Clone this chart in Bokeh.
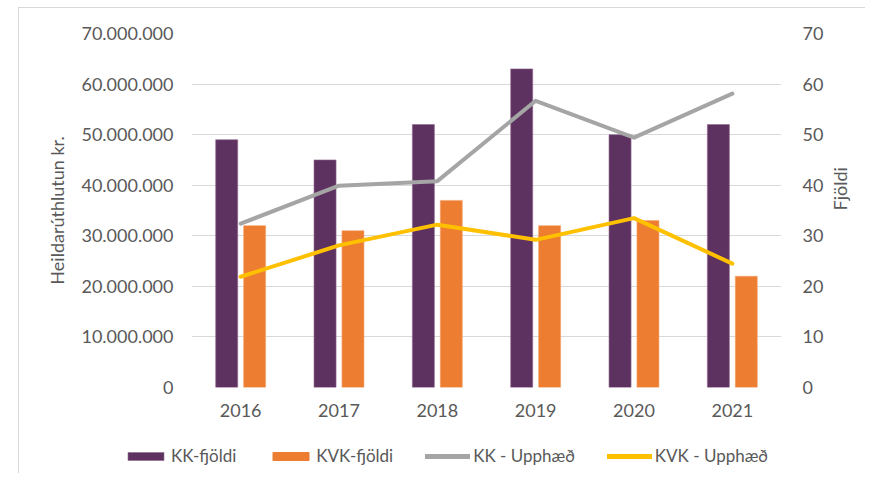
import math
from bokeh.plotting import figure
from bokeh.layouts import column
from bokeh.models import (Range1d, FactorRange, LinearAxis, FixedTicker, CustomJSTickFormatter,
                          Legend, LegendItem, ColumnDataSource)
from bokeh.transform import dodge
from bokeh.embed import file_html
from bokeh.resources import INLINE

years = ["2016", "2017", "2018", "2019", "2020", "2021"]
kk_count = [49, 45, 52, 63, 50, 52]
kvk_count = [32, 31, 37, 32, 33, 22]
kk_amount = [32400000, 39900000, 40800000, 56700000, 49400000, 58100000]
kvk_amount = [21900000, 28100000, 32200000, 29200000, 33500000, 24500000]

amount_ticks = [0, 10000000, 20000000, 30000000, 40000000, 50000000, 60000000, 70000000]
count_ticks = [0, 10, 20, 30, 40, 50, 60, 70]

series_names = ["KK-fjöldi", "KVK-fjöldi", "KK - Upphæð", "KVK - Upphæð"]
COL_KK = "#5E3260"
COL_KVK = "#ED7D31"
COL_KK_L = "#A5A5A5"
COL_KVK_L = "#FFC000"

src = ColumnDataSource(dict(year=years, kk_count=kk_count, kvk_count=kvk_count,
                            kk_amount=kk_amount, kvk_amount=kvk_amount))

FONT = "Lato"
TXT = "#595959"

p = figure(width=865, height=432, output_backend="svg", toolbar_location=None,
           x_range=FactorRange(*years, range_padding=0),
           y_range=Range1d(0, 70000000),
           min_border_left=191, min_border_right=84, min_border_top=33, min_border_bottom=45)
p.extra_y_ranges = {"count": Range1d(0, 70)}
p.outline_line_color = None
p.background_fill_color = "white"
p.border_fill_color = None

# axes
p.yaxis.ticker = FixedTicker(ticks=amount_ticks)
p.yaxis.formatter = CustomJSTickFormatter(code="""
return Math.round(tick).toString().replace(/\\B(?=(\\d{3})+(?!\\d))/g, '.');
""")
p.yaxis.axis_label = "Heildarúthlutun kr."
ax_r = LinearAxis(y_range_name="count", ticker=FixedTicker(ticks=count_ticks), axis_label="Fjöldi")
p.add_layout(ax_r, "right")

for ax in [p.yaxis[0], ax_r, p.xaxis[0]]:
    ax.axis_line_color = None
    ax.major_tick_line_color = None
    ax.minor_tick_line_color = None
    ax.major_tick_out = 0
    ax.major_tick_in = 0
    ax.minor_tick_out = 0
    ax.major_label_text_font = FONT
    ax.major_label_text_font_size = "18px"
    ax.major_label_text_color = TXT
    ax.axis_label_text_font = FONT
    ax.axis_label_text_font_size = "18px"
    ax.axis_label_text_font_style = "normal"
    ax.axis_label_text_color = TXT

p.yaxis[0].major_label_standoff = 18
p.yaxis[0].axis_label_standoff = 10
ax_r.major_label_standoff = 21
ax_r.axis_label_standoff = 14
try:
    ax_r.axis_label_orientation = math.pi / 2
except Exception:
    pass
p.xaxis[0].major_label_standoff = 16

p.xgrid.grid_line_color = None
p.ygrid.grid_line_color = "#D9D9D9"
p.ygrid.grid_line_width = 1

# bars
p.vbar(x=dodge("year", -0.142, range=p.x_range), top="kk_count", width=0.224,
       source=src, y_range_name="count", fill_color=COL_KK, line_color="#8E6A90", line_width=0.6)
p.vbar(x=dodge("year", 0.142, range=p.x_range), top="kvk_count", width=0.224,
       source=src, y_range_name="count", fill_color=COL_KVK, line_color="#F3A470", line_width=0.6)

# lines
p.line(x="year", y="kk_amount", source=src, line_color=COL_KK_L, line_width=4,
       line_cap="round", line_join="round")
p.line(x="year", y="kvk_amount", source=src, line_color=COL_KVK_L, line_width=4,
       line_cap="round", line_join="round")

# legend strip below the chart (its own small figure; proxy glyphs lie outside its ranges)
lf = figure(width=865, height=41, output_backend="svg", toolbar_location=None,
            x_range=Range1d(0, 1), y_range=Range1d(0, 1),
            x_axis_location=None, y_axis_location=None,
            min_border_left=0, min_border_right=0, min_border_top=0, min_border_bottom=0)
aligned = True
try:
    lf.frame_align = False
    aligned = False
except Exception:
    aligned = True
lf.outline_line_color = None
lf.background_fill_color = None
lf.border_fill_color = None
lf.xgrid.grid_line_color = None
lf.ygrid.grid_line_color = None
d1 = lf.vbar(x=[-5], top=[-5], width=0.1, fill_color=COL_KK, line_color="#8E6A90", line_width=0.6)
d2 = lf.vbar(x=[-5], top=[-5], width=0.1, fill_color=COL_KVK, line_color=COL_KVK)
d3 = lf.line(x=[-5, -4], y=[-5, -5], line_color=COL_KK_L, line_width=5, line_cap="round")
d4 = lf.line(x=[-5, -4], y=[-5, -5], line_color=COL_KVK_L, line_width=5, line_cap="round")

leg_x = -68 if aligned else 123
legend = Legend(items=[LegendItem(label=n, renderers=[r]) for n, r in zip(series_names, [d1, d2, d3, d4])],
                orientation="horizontal", location=(leg_x, 7))
legend.glyph_width = 45
legend.glyph_height = 10
legend.label_standoff = 3
legend.spacing = 32
legend.padding = 0
legend.margin = 0
legend.border_line_color = None
legend.background_fill_alpha = 0
legend.label_text_font = FONT
legend.label_text_font_size = "17px"
legend.label_text_color = TXT
lf.add_layout(legend, "center")

layout = column(p, lf, spacing=0)
layout.styles = {
    "background-color": "white",
    "background-image": "linear-gradient(#D9D9D9, #D9D9D9), linear-gradient(#D9D9D9, #D9D9D9)",
    "background-size": "1px 100%, 100% 1px",
    "background-position": "18px 7px, 18px 7px",
    "background-repeat": "no-repeat",
}

open("out.html", "w").write(file_html(layout, INLINE))
